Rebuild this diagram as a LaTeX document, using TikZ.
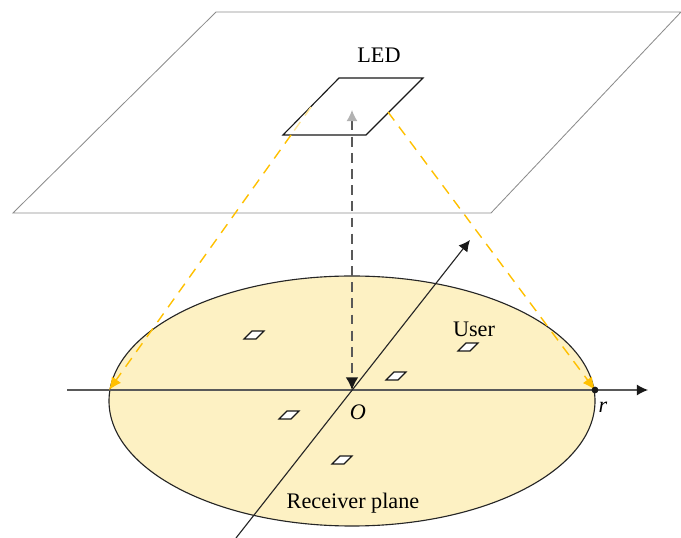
\documentclass[tikz,border=0pt]{standalone}
\usepackage{fontspec}
\setmainfont{Liberation Serif}
\usetikzlibrary{arrows.meta}
\definecolor{planefill}{HTML}{FDF1C3}
\definecolor{beam}{HTML}{FFC000}
\tikzset{
  axisline/.style={draw=black!65,line width=1pt},
  beamline/.style={draw=beam,line width=1pt,dash pattern=on 7.5pt off 5.5pt},
  usercell/.style={draw=black!90,fill=white,line width=0.8pt},
  lab/.style={inner sep=0pt,font=\fontsize{15.8}{18}\selectfont},
}
\begin{document}
\begin{tikzpicture}[>={Latex[length=8pt,width=8pt,color=black!90]}]
    \useasboundingbox (0,0) rectangle (17.025,13.45);
    \draw[black!45,line width=0.6pt] (5.4,13.15) -- (17.025,13.15) -- (12.275,8.125) -- (0.325,8.125) -- cycle;
    \draw[fill=planefill,draw=black!85,line width=0.8pt] (8.8,3.425) ellipse (6.075 and 3.125);
    \coordinate (O) at (8.8,3.7);
    \coordinate (left) at (2.725,3.7);
    \coordinate (right) at (14.875,3.7);
    \coordinate (top) at (8.8,10.7);
    \coordinate (ledl) at (7.275,10.075);
    \coordinate (ledm) at (7.775,10.775);
    \coordinate (ledr) at (9.7,10.65);
    \draw[->,axisline] (1.675,3.7) -- (16.2,3.7);
    \draw[->,draw=black!85,line width=0.8pt] (5.9,0) -- (11.75,7.45);
    % LED panel
    \draw[black!90,line width=0.8pt] (8.475,11.5) -- (10.575,11.5) -- (9.15,10.075) -- (7.075,10.075) -- cycle;
    % light cone
    \draw[beamline,draw=beam!40] (ledm) -- (ledl);
    \draw[beamline,-{Latex[length=9pt,width=8pt,fill=beam,color=beam]}] (ledl) -- (left);
    \draw[beamline,-{Latex[length=9pt,width=8pt,fill=beam,color=beam]}] (ledr) -- (right);
    \draw[black!65,line width=1pt,dash pattern=on 7pt off 4.5pt,{Latex[length=8pt,width=8pt,color=black!30]}-{Latex[length=9pt,width=9pt,color=black!90]}] (top) -- (O);
    \fill[black!90] (right) circle (0.085);
    % users
    \foreach \x/\y in {6.35/5.075,11.7/4.775,9.9/4.05,7.225/3.075,8.55/1.95}
      \draw[usercell] (\x-0.25,\y-0.1) -- (\x+0.05,\y-0.1) -- (\x+0.25,\y+0.1) -- (\x-0.05,\y+0.1) -- cycle;
    \node[lab] (ledlabel) at (9.475,12.075) {LED};
    \node[lab] (userlabel) at (11.85,5.225) {User};
    \node[lab] (planelabel) at (8.825,0.875) {Receiver plane};
    \node[lab] (olabel) at (8.95,3.15) {\textit{O}};
    \node[lab] (rlabel) at (15.075,3.275) {\textit{r}};
\end{tikzpicture}
\end{document}
